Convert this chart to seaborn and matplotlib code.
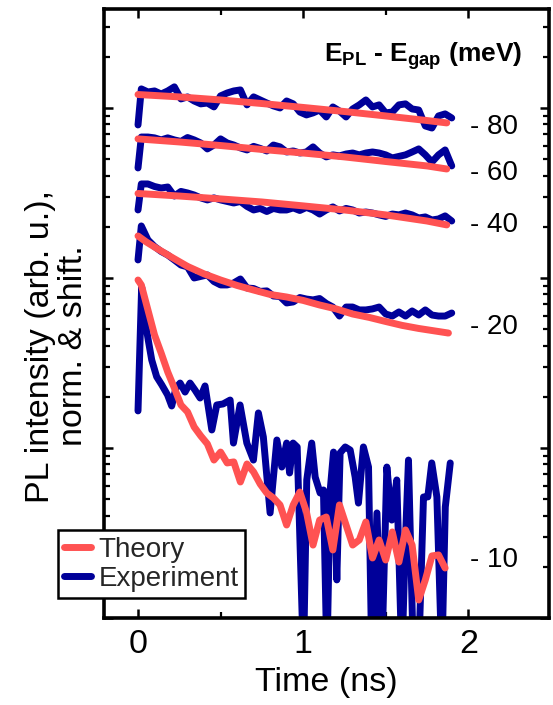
import numpy as np
import pandas as pd
import matplotlib
matplotlib.use("Agg")
import matplotlib.pyplot as plt
import seaborn as sns
from matplotlib.lines import Line2D
from matplotlib.ticker import MultipleLocator, LogLocator, NullFormatter

# ---------------- data (intensities stored as log10 of arb. units) ----------------
# common sampling of the measured transients (ns)
t_exp = np.round(np.r_[0.0, np.arange(0.02, 1.91, 0.04)], 3)

exp80_log10 = [2.900, 3.112, 3.094, 3.100, 3.082, 3.100, 3.124, 3.053, 3.065, 3.041,
               3.024, 3.029, 3.006, 3.071, 3.088, 3.100, 3.106, 3.018, 3.065, 3.047,
               3.029, 3.012, 3.000, 3.041, 3.024, 2.976, 2.959, 2.971, 2.988, 2.947,
               3.006, 2.982, 2.947, 2.994, 3.018, 3.047, 3.006, 3.018, 2.971, 2.976,
               3.018, 3.024, 2.994, 2.988, 2.894, 2.882, 2.953, 2.965, 2.941]
exp60_log10 = [2.647, 2.829, 2.829, 2.824, 2.812, 2.824, 2.812, 2.803, 2.826, 2.812,
               2.794, 2.759, 2.782, 2.818, 2.794, 2.782, 2.765, 2.753, 2.774, 2.762,
               2.747, 2.782, 2.771, 2.741, 2.747, 2.735, 2.741, 2.771, 2.735, 2.712,
               2.724, 2.718, 2.729, 2.735, 2.724, 2.735, 2.741, 2.735, 2.724, 2.706,
               2.715, 2.724, 2.741, 2.759, 2.724, 2.682, 2.724, 2.753, 2.659]
exp40_log10 = [2.400, 2.553, 2.553, 2.538, 2.529, 2.535, 2.482, 2.509, 2.500, 2.488,
               2.471, 2.459, 2.471, 2.459, 2.450, 2.441, 2.450, 2.421, 2.400, 2.409,
               2.391, 2.409, 2.400, 2.400, 2.412, 2.397, 2.415, 2.400, 2.376, 2.400,
               2.418, 2.394, 2.409, 2.400, 2.382, 2.388, 2.382, 2.371, 2.362, 2.376,
               2.371, 2.382, 2.371, 2.353, 2.359, 2.341, 2.347, 2.365, 2.335]
exp20_log10 = [2.106, 2.306, 2.224, 2.185, 2.156, 2.135, 2.106, 2.076, 2.065, 2.000,
               2.009, 2.018, 1.979, 1.959, 1.959, 1.971, 1.994, 1.941, 1.938, 1.921,
               1.924, 1.894, 1.891, 1.853, 1.859, 1.885, 1.876, 1.871, 1.879, 1.850,
               1.829, 1.776, 1.829, 1.829, 1.812, 1.812, 1.818, 1.829, 1.788, 1.776,
               1.800, 1.776, 1.806, 1.782, 1.812, 1.782, 1.776, 1.776, 1.794]

t_exp10 = [0.000, 0.022, 0.042, 0.062, 0.083, 0.113, 0.144, 0.179, 0.204, 0.230,
           0.255, 0.285, 0.315, 0.345, 0.376, 0.406, 0.447, 0.477, 0.515, 0.558,
           0.578, 0.618, 0.659, 0.699, 0.729, 0.759, 0.800, 0.841, 0.871, 0.900,
           0.918, 0.939, 0.964, 1.002, 1.022, 1.052, 1.073, 1.103, 1.123, 1.144,
           1.164, 1.184, 1.204, 1.224, 1.255, 1.285, 1.315, 1.335, 1.365, 1.396,
           1.416, 1.447, 1.476, 1.507, 1.537, 1.567, 1.598, 1.618, 1.638, 1.668,
           1.699, 1.729, 1.755, 1.779, 1.810, 1.840, 1.861, 1.891]
exp10_log10 = [1.218, 1.947, 1.753, 1.635, 1.518, 1.419, 1.371, 1.312, 1.247, 1.353,
               1.382, 1.329, 1.382, 1.341, 1.294, 1.365, 1.106, 1.253, 1.259, 1.282,
               1.029, 1.253, 1.029, 0.929, 1.206, 1.065, 0.618, 1.047, 0.888, 1.029,
               0.853, 1.029, 1.006, -0.25, 0.812, 1.029, 0.829, 0.735, 0.753, -0.25,
               0.753, 0.976, 0.224, 0.971, 1.006, 0.988, 0.829, 0.676, 1.006, 0.888,
               -0.25, 0.618, -0.25, 0.888, 0.576, 0.812, -0.25, 0.418, 0.929, -0.25,
               -0.25, 0.712, 0.712, 0.912, 0.712, -0.25, 0.653, 0.912]

t_th = [0.0, 0.25, 0.5, 0.75, 1.0, 1.25, 1.5, 1.75, 1.87]
th80_log10 = [3.079, 3.065, 3.047, 3.026, 3.003, 2.979, 2.953, 2.926, 2.912]
th60_log10 = [2.818, 2.800, 2.779, 2.756, 2.735, 2.712, 2.685, 2.659, 2.641]
th40_log10 = [2.497, 2.482, 2.465, 2.447, 2.424, 2.400, 2.371, 2.335, 2.312]

t_th20 = [0.0, 0.05, 0.1, 0.2, 0.3, 0.4, 0.5, 0.6, 0.7, 0.8, 0.9, 1.0, 1.1,
          1.2, 1.3, 1.4, 1.5, 1.6, 1.7, 1.8, 1.88]
th20_log10 = [2.247, 2.212, 2.182, 2.124, 2.068, 2.024, 1.988, 1.956, 1.929, 1.903,
              1.888, 1.868, 1.841, 1.818, 1.788, 1.768, 1.744, 1.721, 1.703, 1.688,
              1.676]

t_th10 = t_exp[:-1]
th10_log10 = [1.988, 1.959, 1.812, 1.665, 1.559, 1.447, 1.353, 1.253, 1.212, 1.124,
              1.071, 1.024, 0.929, 0.976, 0.912, 0.918, 0.800, 0.906, 0.859, 0.788,
              0.735, 0.706, 0.665, 0.547, 0.665, 0.741, 0.624, 0.429, 0.576, 0.594,
              0.400, 0.665, 0.547, 0.429, 0.459, 0.565, 0.353, 0.459, 0.341, 0.506,
              0.329, 0.518, 0.429, 0.106, 0.224, 0.365, 0.371, 0.294]

energy_labels = ["- 80", "- 60", "- 40", "- 20", "- 10"]
legend_labels = ["Theory", "Experiment"]

# ---------------- style ----------------
sns.set_theme(style="ticks")
plt.rcParams["font.family"] = ["Liberation Sans", "DejaVu Sans"]
plt.rcParams["mathtext.fontset"] = "custom"
plt.rcParams["mathtext.rm"] = "Liberation Sans"
plt.rcParams["mathtext.bf"] = "Liberation Sans:bold"
plt.rcParams["mathtext.it"] = "Liberation Sans:italic"

BLUE = "#000099"
RED = "#FF5252"

fig = plt.figure(figsize=(5.53, 7.05), dpi=100)
ax = fig.add_axes([103.5 / 553, 1 - 618 / 705, 445 / 553, 609 / 705])

exp_series = [(t_exp, exp80_log10), (t_exp, exp60_log10), (t_exp, exp40_log10),
              (t_exp, exp20_log10), (t_exp10, exp10_log10)]
th_series = [(t_th, th80_log10), (t_th, th60_log10), (t_th, th40_log10),
             (t_th20, th20_log10), (t_th10, th10_log10)]

line_kw = dict(estimator=None, sort=False, legend=False,
               solid_capstyle="round", solid_joinstyle="round")
for t, v in exp_series:
    df = pd.DataFrame({"t": t, "I": np.power(10.0, v)})
    sns.lineplot(data=df, x="t", y="I", ax=ax, color=BLUE, linewidth=5.0, **line_kw)
for t, v in th_series:
    df = pd.DataFrame({"t": t, "I": np.power(10.0, v)})
    sns.lineplot(data=df, x="t", y="I", ax=ax, color=RED, linewidth=5.0, **line_kw)

ax.set_yscale("log")
ax.set_xlim(-0.209, 2.486)
ax.set_ylim(1.0, 10 ** 3.582)

ax.xaxis.set_major_locator(MultipleLocator(1))
ax.xaxis.set_minor_locator(MultipleLocator(0.5))
ax.yaxis.set_major_locator(LogLocator(base=10))
ax.yaxis.set_minor_locator(LogLocator(base=10, subs=np.arange(2, 10)))
ax.yaxis.set_minor_formatter(NullFormatter())
ax.tick_params(which="both", direction="in", top=True, right=True,
               labelleft=False, color="black")
ax.tick_params(which="major", length=6.5, width=1.8)
ax.tick_params(which="minor", length=4, width=1.6)
ax.tick_params(axis="x", which="major", labelsize=24.5, pad=8, labelcolor="black")
for s in ax.spines.values():
    s.set_linewidth(2.6)
    s.set_color("black")
ax.set_xlabel("Time (ns)", fontsize=24.5, labelpad=5, color="black")
ax.set_ylabel("")
fig.text(57 / 553, 1 - 346 / 705, "PL intensity (arb. u.),\nnorm. & shift.",
         rotation=90, ha="center", va="center", multialignment="center",
         fontsize=24.5, linespacing=1.08, color="black")

# energy labels beside each transient
label_y_log10 = [2.888, 2.618, 2.312, 1.712, 0.341]
for lab, ylog in zip(energy_labels, label_y_log10):
    ax.text(2.01, 10 ** ylog, lab, fontsize=20, ha="left", va="center", color="black")

ax.text(0.94, 0.913, r"$\mathbf{E_{PL}}$ - $\mathbf{E_{gap}}$ (meV)", transform=ax.transAxes,
        fontsize=19, fontweight="bold", ha="right", va="baseline", color="black")

handles = [Line2D([], [], color=RED, lw=5.0), Line2D([], [], color=BLUE, lw=5.0)]
leg = ax.legend(handles, legend_labels, loc="lower left",
                bbox_to_anchor=(58 / 553, 1 - 598 / 705), bbox_transform=fig.transFigure,
                fontsize=20, handlelength=0.95, handletextpad=0.3, borderpad=0.22,
                labelspacing=0.12, borderaxespad=0, frameon=True, fancybox=False,
                framealpha=1, edgecolor="black")
leg.get_frame().set_linewidth(1.8)
leg.set_zorder(10)

fig.savefig("out.png", dpi=100)
